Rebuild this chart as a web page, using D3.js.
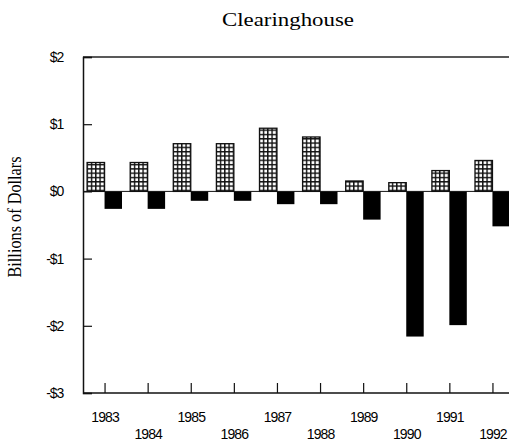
<!DOCTYPE html>
<html><head><meta charset="utf-8">
<script src="https://cdn.jsdelivr.net/npm/d3@7"></script>
<style>body{margin:0;background:#fff}svg{display:block}</style>
</head><body>
<script>
const years = ["1983","1984","1985","1986","1987","1988","1989","1990","1991","1992"];
const positiveValues = [0.43, 0.43, 0.71, 0.71, 0.94, 0.81, 0.155, 0.13, 0.31, 0.46];
const negativeValues = [-0.26, -0.26, -0.14, -0.14, -0.19, -0.19, -0.42, -2.16, -1.99, -0.52];
const yTicks = [2, 1, 0, -1, -2, -3];
const yTickLabels = ["$2", "$1", "$0", "-$1", "-$2", "-$3"];
const title = "Clearinghouse";
const yTitle = "Billions of Dollars";

const W = 509, H = 446;
const svg = d3.select("body").append("svg").attr("width", W).attr("height", H);

const x = d3.scalePoint().domain(years).range([83, 514]).padding(0.5);
const step = x.step();
const barW = step * 0.405;
const y = d3.scaleLinear().domain([-3, 2]).range([393, 57]);

// hatch pattern
const defs = svg.append("defs");
const P = 4.3;
const pat = defs.append("pattern").attr("id", "grid").attr("patternUnits", "userSpaceOnUse")
  .attr("width", P).attr("height", P).attr("x", 0.5).attr("y", 0.5);
pat.append("rect").attr("width", P).attr("height", P).attr("fill", "#fff");
pat.append("rect").attr("x", 0).attr("y", 0).attr("width", 1.4).attr("height", P).attr("fill", "#111");
pat.append("rect").attr("x", 0).attr("y", 0).attr("width", P).attr("height", 1.4).attr("fill", "#111");

// title
svg.append("text").attr("x", 288).attr("y", 26).attr("text-anchor", "middle")
  .attr("font-family", "Liberation Serif, serif").attr("font-size", 19)
  .attr("textLength", 132).attr("lengthAdjust", "spacingAndGlyphs")
  .text(title);

// y title
svg.append("text").attr("transform", "translate(21,217) rotate(-90)").attr("text-anchor", "middle")
  .attr("font-family", "Liberation Serif, serif").attr("font-size", 18)
  .attr("textLength", 121).attr("lengthAdjust", "spacingAndGlyphs")
  .text(yTitle);

// bars
svg.append("g").selectAll("rect").data(years).join("rect")
  .attr("x", d => x(d) - barW)
  .attr("width", barW)
  .attr("y", (d, i) => y(positiveValues[i]))
  .attr("height", (d, i) => y(0) - y(positiveValues[i]))
  .attr("fill", "url(#grid)").attr("stroke", "#111").attr("stroke-width", 1.3);

svg.append("g").selectAll("rect").data(years).join("rect")
  .attr("x", d => x(d))
  .attr("width", barW)
  .attr("y", y(0))
  .attr("height", (d, i) => y(negativeValues[i]) - y(0))
  .attr("fill", "#000");

// zero line
svg.append("line").attr("x1", 83).attr("x2", W).attr("y1", y(0)).attr("y2", y(0))
  .attr("stroke", "#111").attr("stroke-width", 1);

// top frame line
svg.append("line").attr("x1", 83).attr("x2", W).attr("y1", y(2)).attr("y2", y(2))
  .attr("stroke", "#222").attr("stroke-width", 1.5);

// y axis
const yAxis = d3.axisLeft(y).tickValues(yTicks).tickSize(-9).tickPadding(20)
  .tickFormat((d, i) => yTickLabels[i]);
const gy = svg.append("g").attr("transform", "translate(83,0)").call(yAxis);
gy.select(".domain").attr("stroke", "#111").attr("stroke-width", 1.5);
gy.selectAll(".tick line").attr("stroke", "#111").attr("stroke-width", 1.2);
gy.selectAll(".tick text").attr("font-family", "Liberation Sans, Arial, sans-serif")
  .attr("font-size", 14).attr("letter-spacing", -1.2).attr("fill", "#000");

// x axis
const xAxis = d3.axisBottom(x).tickSize(-10).tickSizeOuter(0).tickPadding(0);
const gx = svg.append("g").attr("transform", "translate(0,393)").call(xAxis);
gx.select(".domain").attr("d", `M83,0H${W}`).attr("stroke", "#111").attr("stroke-width", 1.5);
gx.selectAll(".tick line").attr("stroke", "#111").attr("stroke-width", 1.2);
gx.selectAll(".tick text")
  .attr("y", (d, i) => i % 2 === 0 ? 29 : 46)
  .attr("dy", 0)
  .attr("font-family", "Liberation Sans, Arial, sans-serif")
  .attr("font-size", 14).attr("letter-spacing", -0.9).attr("fill", "#000");
</script>
</body></html>
